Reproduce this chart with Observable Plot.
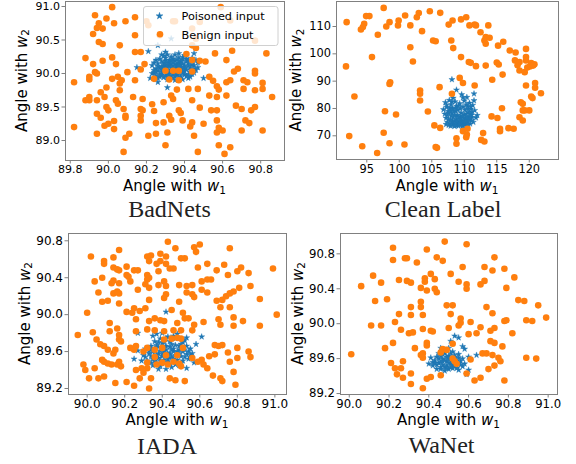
<!DOCTYPE html>
<html><head><meta charset="utf-8">
<script src="https://cdn.jsdelivr.net/npm/d3@7"></script>
<script src="https://cdn.jsdelivr.net/npm/@observablehq/plot@0.6"></script>
<style>
html,body{margin:0;padding:0;background:#fff;}
#wrap{position:relative;width:576px;height:464px;overflow:hidden;font-family:"DejaVu Sans";}
.pnl{position:absolute;}
#overlay{position:absolute;left:0;top:0;}
</style></head><body><div id="wrap"></div>
<script>
// ---------- data ----------
const titles = ["BadNets", "Clean Label", "IADA", "WaNet"];
const legendLabels = ["Poisoned input", "Benign input"];
const axisText = "Angle with ";
const axisVar = "w";
const xSub = "1", ySub = "2";

const badnetsTicksX = [89.8, 90.0, 90.2, 90.4, 90.6, 90.8];
const badnetsTicksY = [89.0, 89.5, 90.0, 90.5, 91.0];
const cleanTicksX = [95, 100, 105, 110, 115, 120];
const cleanTicksY = [70, 80, 90, 100, 110];
const iadaTicksX = [90.0, 90.2, 90.4, 90.6, 90.8, 91.0];
const iadaTicksY = [89.2, 89.6, 90.0, 90.4, 90.8];
const wanetTicksX = [90.0, 90.2, 90.4, 90.6, 90.8, 91.0];
const wanetTicksY = [89.2, 89.6, 90.0, 90.4, 90.8];

const badnetsPoisoned = [[90.30,90.10],[90.32,90.12],[90.34,90.08],[90.36,90.05],[90.38,90.10],[90.33,90.02],[90.29,90.05],[90.31,90.00],[90.35,90.14],[90.37,90.16],[90.40,90.12],[90.41,90.06],[90.39,90.01],[90.36,89.98],[90.33,89.96],[90.30,89.97],[90.28,90.02],[90.27,90.08],[90.29,90.14],[90.32,90.17],[90.35,90.19],[90.38,90.18],[90.42,90.15],[90.43,90.09],[90.43,90.02],[90.40,89.98],[90.37,89.94],[90.34,89.93],[90.31,89.94],[90.28,89.98],[90.26,90.04],[90.26,90.11],[90.30,90.19],[90.34,90.22],[90.39,90.21],[90.44,90.18],[90.45,90.12],[90.46,90.05],[90.44,89.99],[90.36,90.10],[90.33,90.05],[90.31,90.08],[90.35,90.02],[90.38,90.07],[90.40,90.03],[90.32,89.99],[90.29,90.11],[90.36,90.13],[90.41,90.18],[90.37,90.24],[90.33,90.25],[90.30,90.23],[90.25,90.07],[90.24,90.01],[90.27,89.95],[90.35,89.90],[90.42,89.93],[90.47,90.09],[90.47,90.16],[90.23,90.12],[90.25,89.97],[90.39,89.91],[90.44,90.23],[90.31,89.91],[90.17,90.06],[90.22,89.93],[90.23,90.00],[90.26,89.87],[90.31,89.79],[90.50,89.93],[90.21,90.33],[90.30,90.32],[90.40,90.27],[90.37,90.30],[90.25,90.20],[90.28,90.28],[90.45,90.30],[90.26,90.42],[90.33,90.52],[90.15,90.09],
[90.26,90.15],[90.27,90.22],[90.28,90.18],[90.29,90.26],[90.31,90.28],[90.32,90.20],[90.33,90.14],[90.34,90.17],[90.35,90.28],[90.36,90.21],[90.37,90.19],[90.38,90.13],[90.39,90.15],[90.40,90.09],[90.41,90.22],[90.42,90.11],[90.43,90.05],[90.42,89.99],[90.41,89.96],[90.38,89.96],[90.35,89.96],[90.32,89.93],[90.29,89.94],[90.27,89.99],[90.28,90.06],[90.30,90.07],[90.32,90.03],[90.34,90.00],[90.37,90.01],[90.39,90.05],[90.36,90.08],[90.34,90.11],[90.31,90.13],[90.28,90.10],[90.30,90.16],[90.33,90.19],[90.39,90.24],[90.42,90.20],[90.44,90.13],[90.45,90.07],[90.45,90.01],[90.43,89.95],[90.25,90.02],[90.26,89.93],[90.24,90.05],[90.24,90.16],[90.46,90.20],[90.33,90.09],[90.37,90.12],[90.35,90.06]];
const badnetsBenign = [[90.02,90.99],[90.59,90.99],[89.93,90.87],[90.14,90.84],[89.99,90.82],[90.03,90.75],[90.09,90.78],[89.95,90.75],[89.97,90.67],[89.94,90.68],[89.92,90.59],[90.14,90.57],[89.95,90.47],[89.97,90.44],[90.06,90.42],[90.27,90.57],[90.44,90.42],[90.46,90.38],[89.88,90.23],[90.02,90.24],[90.14,90.32],[90.17,90.32],[89.97,90.19],[90.04,90.14],[90.41,90.29],[90.44,90.20],[90.56,90.30],[90.65,90.34],[90.83,90.30],[90.48,90.19],[90.51,90.18],[90.62,90.20],[90.10,90.02],[90.68,90.07],[90.66,90.03],[90.77,90.04],[90.77,90.00],[89.93,90.02],[89.94,90.00],[89.90,89.95],[89.90,89.91],[90.02,89.92],[90.05,89.95],[90.07,89.90],[90.14,89.90],[90.24,89.92],[90.30,90.04],[90.34,90.04],[90.37,90.04],[90.32,89.91],[90.37,89.90],[90.53,89.95],[90.55,89.89],[90.62,89.87],[90.64,89.90],[90.71,89.90],[90.73,89.87],[90.81,89.86],[89.82,89.87],[89.99,89.79],[90.06,89.85],[90.06,89.75],[89.96,89.72],[90.36,89.76],[90.42,89.77],[90.47,89.77],[90.57,89.81],[90.58,89.76],[90.71,89.77],[90.81,89.77],[89.90,89.65],[89.90,89.60],[89.94,89.60],[89.98,89.65],[90.04,89.60],[90.05,89.55],[90.13,89.65],[90.18,89.62],[90.33,89.67],[90.34,89.62],[90.44,89.60],[90.53,89.67],[90.57,89.65],[90.62,89.67],[90.77,89.75],[90.86,89.65],[89.88,89.60],[89.99,89.50],[90.00,89.45],[89.94,89.40],[90.08,89.47],[90.09,89.37],[90.17,89.47],[90.18,89.45],[90.17,89.37],[90.23,89.54],[90.29,89.57],[90.24,89.44],[90.37,89.45],[90.38,89.41],[90.48,89.49],[90.54,89.45],[90.57,89.45],[90.67,89.52],[90.70,89.47],[90.75,89.45],[90.77,89.50],[89.96,89.34],[89.98,89.22],[90.00,89.25],[90.03,89.29],[90.09,89.34],[90.17,89.30],[90.25,89.26],[90.29,89.27],[90.32,89.37],[90.33,89.31],[90.39,89.30],[90.44,89.27],[90.43,89.21],[90.50,89.25],[90.57,89.30],[90.58,89.19],[90.72,89.30],[90.74,89.26],[89.82,89.20],[89.94,89.10],[90.03,89.17],[90.11,89.10],[90.09,89.04],[90.21,89.07],[90.25,89.10],[90.31,89.12],[90.45,89.07],[90.57,89.12],[90.60,89.15],[90.70,89.15],[90.81,89.15],[90.30,88.93],[90.58,88.93],[90.64,88.90],[90.08,88.83],[90.47,88.83],[90.61,88.80],[90.20,90.78],[90.21,90.72],[90.34,90.78],[90.35,90.78],[90.44,90.67],[90.46,90.52],[90.48,90.77],[90.77,90.49],[90.64,90.79],[90.17,90.06],[90.19,90.14],[89.92,90.14],[90.44,90.03]];

const cleanPoisoned = [[107.3,80.5],[107.5,79.0],[107.4,77.5],[107.6,76.0],[107.8,74.5],[108.0,81.5],[108.2,79.8],[108.1,78.2],[108.3,76.8],[108.2,75.2],[108.4,74.0],[108.6,82.5],[108.8,80.8],[108.7,79.0],[108.9,77.5],[108.8,76.0],[109.0,74.6],[109.1,73.6],[109.3,81.8],[109.4,80.0],[109.5,78.4],[109.4,76.9],[109.6,75.5],[109.5,74.2],[109.8,73.8],[110.0,82.8],[110.1,79.5],[110.0,77.8],[110.2,76.2],[110.1,74.8],[110.4,73.9],[110.5,80.8],[110.6,78.6],[110.7,77.0],[110.5,75.4],[110.9,74.4],[111.0,79.8],[111.2,76.8],[111.1,75.6],[111.4,75.0],[107.1,82.2],[107.2,74.2],[107.9,73.6],[108.5,73.5],[109.8,84.0],[108.3,83.8],[110.8,82.0],[111.3,81.2],[107.7,83.0],[109.2,75.0],[108.6,75.6],[109.9,76.5],[110.4,75.0],[108.0,77.2],[110.3,78.0],[109.0,79.5],[107.6,78.3],[108.1,90.6],[108.8,86.8],[109.6,85.1],[111.5,85.4],[110.4,84.1],[111.5,82.9],[111.6,79.3],[111.8,76.6],[112.0,77.5],[106.8,79.6],
[107.2,76.5],[107.4,75.0],[107.6,73.9],[107.9,75.8],[107.9,78.9],[107.3,81.2],[107.0,78.0],[108.0,80.2],[108.3,74.6],[108.5,77.5],[108.6,74.1],[108.9,75.2],[108.7,73.8],[109.2,74.1],[109.3,76.2],[109.1,77.0],[109.6,74.7],[109.7,73.5],[109.9,75.2],[110.0,74.0],[110.2,75.4],[110.3,73.7],[110.6,74.2],[110.7,75.9],[110.8,76.7],[110.9,78.2],[111.1,77.7],[110.4,76.8],[109.7,77.3],[108.4,78.9],[108.7,80.2],[109.1,81.0],[109.8,80.6],[110.3,81.4],[111.0,80.6],[107.8,80.0],[108.1,82.5],[110.6,79.8],[111.2,78.6],[109.3,74.5]];
const cleanBenign = [[97.6,116.8],[91.9,111.6],[94.9,113.8],[95.4,113.8],[94.6,111.0],[94.4,109.8],[94.1,108.9],[96.7,107.0],[98.5,111.6],[98.0,110.0],[99.9,112.2],[99.8,110.4],[100.9,114.0],[101.7,110.4],[102.7,113.4],[103.0,114.9],[103.5,108.3],[104.7,115.6],[106.3,115.0],[107.6,110.7],[108.2,112.2],[109.5,112.6],[110.3,113.4],[110.8,110.4],[111.6,110.7],[111.8,110.4],[112.5,107.9],[113.7,110.4],[113.3,106.1],[113.1,104.9],[113.3,103.7],[113.9,105.9],[115.2,103.0],[116.0,104.4],[105.2,104.9],[105.6,104.6],[108.0,104.9],[108.3,102.1],[101.7,102.4],[102.1,97.2],[95.8,98.8],[91.8,95.4],[109.5,98.8],[110.7,97.0],[111.0,96.7],[111.8,95.5],[113.3,95.7],[115.0,96.8],[115.3,96.1],[117.0,101.2],[117.9,100.5],[119.5,101.8],[119.5,98.8],[119.5,97.6],[117.8,97.6],[118.5,97.0],[118.2,95.8],[118.5,93.9],[119.3,93.3],[120.3,96.6],[120.8,96.2],[120.1,95.4],[119.7,95.0],[120.6,95.7],[115.9,92.4],[114.3,90.5],[109.3,91.2],[109.8,89.3],[111.6,88.4],[106.2,87.8],[98.6,89.6],[98.5,89.0],[103.2,86.6],[103.2,85.4],[103.2,82.9],[93.1,84.4],[108.1,85.4],[119.5,88.4],[120.9,89.3],[120.9,87.6],[121.8,85.6],[120.3,84.4],[120.5,83.8],[118.7,82.3],[119.0,81.7],[115.8,80.1],[120.0,79.3],[119.0,79.3],[119.3,79.3],[118.5,76.8],[119.0,75.6],[114.2,77.1],[115.1,76.5],[104.4,78.9],[99.5,77.8],[97.8,79.0],[105.4,73.8],[106.3,72.9],[109.8,71.7],[110.5,72.6],[110.4,70.5],[108.8,69.1],[108.8,67.1],[110.3,69.5],[112.9,71.0],[112.6,68.5],[113.1,67.9],[115.5,72.6],[115.5,71.7],[116.8,72.8],[117.6,72.6],[97.6,71.1],[92.3,69.9],[98.5,67.3],[100.8,66.8],[94.3,66.2],[96.6,63.7],[105.6,65.9],[105.8,65.6]];

const iadaPoisoned = [[90.36,89.60],[90.38,89.65],[90.40,89.55],[90.42,89.62],[90.44,89.58],[90.46,89.52],[90.48,89.60],[90.50,89.55],[90.41,89.70],[90.45,89.68],[90.49,89.66],[90.35,89.52],[90.37,89.48],[90.40,89.47],[90.44,89.46],[90.47,89.49],[90.51,89.50],[90.52,89.62],[90.34,89.66],[90.36,89.71],[90.39,89.74],[90.43,89.76],[90.47,89.74],[90.51,89.70],[90.53,89.57],[90.33,89.58],[90.32,89.50],[90.38,89.58],[90.43,89.52],[90.46,89.63],[90.41,89.60],[90.39,89.44],[90.45,89.43],[90.49,89.45],[90.54,89.52],[90.55,89.63],[90.31,89.63],[90.30,89.56],[90.35,89.45],[90.42,89.41],[90.48,89.79],[90.40,89.80],[90.35,89.77],[90.53,89.75],[90.56,89.58],[90.29,89.50],[90.34,89.63],[90.44,89.65],[90.50,89.64],[90.47,89.56],[90.42,90.03],[90.27,89.80],[90.27,89.61],[90.38,89.41],[90.53,89.42],[90.61,89.76],[90.37,89.79],[90.57,89.48],[90.25,89.52],[90.58,89.68],
[90.34,89.55],[90.35,89.60],[90.36,89.50],[90.37,89.67],[90.38,89.53],[90.39,89.61],[90.40,89.69],[90.41,89.51],[90.42,89.66],[90.43,89.58],[90.44,89.71],[90.45,89.55],[90.46,89.60],[90.47,89.67],[90.48,89.51],[90.49,89.58],[90.50,89.68],[90.51,89.60],[90.52,89.54],[90.53,89.66],[90.37,89.56],[90.39,89.50],[90.43,89.49],[90.47,89.46],[90.50,89.47],[90.41,89.64],[90.45,89.62],[90.33,89.61],[90.36,89.64],[90.44,89.53],[90.49,89.62],[90.52,89.72],[90.38,89.70],[90.42,89.74],[90.46,89.77],[90.31,89.54],[90.34,89.48],[90.55,89.56],[90.54,89.60],[90.40,89.57]];
const iadaBenign = [[90.43,90.79],[90.47,90.72],[90.57,90.73],[90.60,90.76],[90.58,90.68],[90.76,90.72],[90.17,90.70],[90.02,90.63],[90.14,90.62],[90.09,90.58],[90.09,90.55],[90.32,90.63],[90.34,90.64],[90.33,90.58],[90.39,90.66],[90.42,90.63],[90.42,90.55],[90.39,90.58],[90.52,90.61],[90.50,90.61],[90.46,90.50],[90.44,90.50],[90.14,90.51],[90.16,90.49],[90.17,90.48],[90.21,90.52],[90.21,90.43],[90.22,90.41],[90.23,90.36],[90.25,90.48],[90.27,90.48],[90.32,90.43],[90.32,90.38],[90.33,90.40],[90.37,90.55],[90.38,90.47],[90.38,90.32],[90.04,90.36],[90.08,90.40],[90.14,90.37],[90.13,90.34],[90.17,90.34],[90.17,90.23],[90.14,90.23],[90.16,90.25],[90.06,90.24],[90.27,90.27],[90.31,90.33],[90.33,90.29],[90.41,90.36],[90.42,90.31],[90.42,90.22],[90.41,90.18],[90.49,90.32],[90.53,90.31],[90.56,90.32],[90.53,90.24],[90.56,90.22],[90.57,90.19],[90.61,90.36],[90.64,90.38],[90.66,90.38],[90.61,90.27],[90.64,90.24],[90.59,90.51],[90.64,90.55],[90.69,90.48],[90.75,90.43],[90.73,90.54],[90.80,90.47],[90.82,90.51],[90.86,90.45],[90.87,90.31],[90.81,90.29],[90.99,90.50],[90.74,90.20],[90.76,90.23],[90.78,90.25],[90.72,90.16],[90.69,90.15],[90.92,90.17],[90.08,90.14],[90.11,90.15],[90.17,90.12],[90.33,90.16],[90.49,90.14],[90.71,90.08],[90.76,90.08],[90.00,90.02],[90.21,90.03],[90.24,90.02],[90.28,90.04],[90.31,90.07],[90.25,90.07],[90.26,89.95],[90.33,89.93],[90.36,89.96],[90.39,89.94],[90.41,89.93],[90.45,90.05],[90.51,90.02],[90.52,89.96],[90.48,89.91],[90.54,89.96],[90.57,89.89],[90.12,89.91],[90.12,89.82],[90.16,89.85],[90.03,89.81],[89.95,89.78],[90.05,89.73],[90.62,89.92],[90.70,89.95],[90.71,89.89],[90.78,89.97],[90.78,89.88],[90.83,89.93],[90.92,89.88],[91.01,90.00],[90.17,89.73],[90.17,89.78],[90.18,89.71],[90.26,89.82],[90.32,89.84],[90.36,89.83],[90.41,89.82],[90.46,89.83],[90.50,89.83],[90.56,89.83],[90.07,89.68],[90.09,89.66],[90.11,89.62],[90.14,89.58],[90.15,89.62],[90.08,89.51],[90.09,89.49],[90.11,89.47],[90.13,89.46],[90.16,89.46],[90.17,89.49],[90.18,89.44],[90.23,89.64],[90.25,89.62],[90.26,89.66],[90.32,89.64],[90.30,89.60],[89.98,89.46],[89.99,89.40],[90.04,89.42],[90.01,89.31],[90.06,89.31],[90.09,89.33],[90.15,89.26],[90.21,89.27],[90.25,89.23],[90.28,89.31],[90.32,89.42],[90.30,89.37],[90.34,89.31],[90.33,89.20],[90.44,89.31],[90.47,89.29],[90.52,89.28],[90.50,89.44],[90.56,89.53],[90.61,89.51],[90.62,89.46],[90.64,89.42],[90.59,89.49],[90.67,89.34],[90.68,89.67],[90.70,89.66],[90.72,89.67],[90.68,89.57],[90.65,89.55],[90.75,89.59],[90.76,89.49],[90.80,89.64],[90.80,89.53],[90.78,89.38],[90.72,89.28],[90.71,89.31],[90.86,89.60],[90.87,89.54],[90.79,89.24],[90.36,89.62],[90.36,89.54],[90.40,89.64],[90.41,89.73],[90.45,89.74],[90.48,89.75],[90.50,89.74],[90.42,89.56],[90.46,89.49],[90.48,89.56],[90.40,89.48],[90.43,89.46],[90.49,89.47],[90.51,89.64],[90.32,89.48],[90.37,89.46],[90.29,89.42],[90.26,89.40]];

const wanetPoisoned = [[90.45,89.55],[90.47,89.60],[90.49,89.52],[90.51,89.58],[90.53,89.62],[90.48,89.66],[90.44,89.62],[90.46,89.50],[90.50,89.48],[90.54,89.52],[90.56,89.57],[90.52,89.68],[90.43,89.58],[90.47,89.70],[90.50,89.63],[90.55,89.65],[90.42,89.52],[90.44,89.48],[90.48,89.46],[90.52,89.49],[90.57,89.60],[90.49,89.57],[90.46,89.56],[90.51,89.54],[90.53,89.56],[90.45,89.66],[90.41,89.61],[90.58,89.54],[90.55,89.47],[90.50,89.72],[90.53,89.86],[90.55,89.84],[90.57,89.74],[90.58,89.71],[90.64,89.64],[90.40,89.54],[90.42,89.56],[90.57,89.51],[90.60,89.47],[90.59,89.42],[90.51,89.80],[90.46,89.72],[90.60,89.62],
[90.44,89.53],[90.45,89.60],[90.46,89.63],[90.47,89.53],[90.48,89.58],[90.48,89.50],[90.49,89.62],[90.50,89.55],[90.50,89.60],[90.51,89.50],[90.52,89.59],[90.52,89.53],[90.53,89.64],[90.54,89.58],[90.54,89.49],[90.55,89.61],[90.56,89.53],[90.47,89.65],[90.46,89.48],[90.43,89.55],[90.49,89.49],[90.51,89.66],[90.53,89.51],[90.47,89.57],[90.55,89.55]];
const wanetBenign = [[90.48,90.94],[90.59,90.91],[90.22,90.87],[90.39,90.85],[90.22,90.73],[90.28,90.75],[90.29,90.75],[90.34,90.70],[90.44,90.76],[90.47,90.72],[90.57,90.65],[90.73,90.76],[90.68,90.65],[90.72,90.61],[90.78,90.63],[90.83,90.53],[90.12,90.55],[90.06,90.43],[90.16,90.47],[90.25,90.50],[90.29,90.49],[90.31,90.47],[90.41,90.57],[90.38,90.52],[90.38,90.48],[90.43,90.51],[90.36,90.41],[90.39,90.38],[90.43,90.40],[90.44,90.36],[90.51,90.57],[90.55,90.48],[90.59,90.45],[90.59,90.40],[90.66,90.45],[90.68,90.49],[90.79,90.41],[90.13,90.26],[90.19,90.28],[90.36,90.25],[90.36,90.19],[90.31,90.19],[90.31,90.10],[90.37,90.10],[90.25,90.11],[90.49,90.21],[90.52,90.21],[90.51,90.11],[90.69,90.19],[90.72,90.12],[90.85,90.27],[90.88,90.26],[90.95,90.21],[90.99,90.07],[90.16,89.98],[90.23,90.02],[90.26,89.93],[90.30,89.89],[90.32,89.90],[90.37,89.94],[90.41,89.92],[90.42,89.91],[90.50,89.95],[90.56,90.06],[90.56,90.01],[90.55,89.98],[90.61,90.02],[90.60,89.88],[90.64,89.89],[90.66,89.96],[90.71,89.92],[90.73,89.95],[90.78,90.03],[90.79,90.04],[90.82,89.89],[90.89,90.04],[90.92,90.03],[90.11,89.98],[90.22,89.78],[90.18,89.72],[90.33,89.72],[90.39,89.78],[90.39,89.75],[90.47,89.71],[90.49,89.70],[90.46,89.67],[90.52,89.77],[90.71,89.80],[90.73,89.78],[90.77,89.74],[90.01,89.65],[90.37,89.66],[90.36,89.64],[90.37,89.61],[90.61,89.59],[90.67,89.66],[90.69,89.66],[90.72,89.64],[90.75,89.61],[90.76,89.57],[90.89,89.61],[90.94,89.60],[90.21,89.55],[90.27,89.57],[90.31,89.43],[90.26,89.49],[90.23,89.49],[90.24,89.42],[90.27,89.38],[90.31,89.31],[90.37,89.26],[90.39,89.37],[90.41,89.39],[90.46,89.41],[90.59,89.43],[90.63,89.35],[90.66,89.38],[90.70,89.48],[90.73,89.52],[90.78,89.35],[90.52,89.60],[90.53,89.57],[90.54,89.54]];

// ---------- layout ----------
const BLUE = "#1f77b4", ORANGE = "#ff7f0e", SPINE = "#808080";
const panels = [
  {poisoned: badnetsPoisoned, benign: badnetsBenign, left: 0, top: 0, width: 288, height: 200, mL: 65, mR: 4, mT: 1, mB: 40, fs: 11,
   xd: [89.775, 90.925], yd: [88.7015, 91.0746], xt: badnetsTicksX, yt: badnetsTicksY, fx: d => d.toFixed(1), fy: d => d.toFixed(1)},
  {poisoned: cleanPoisoned, benign: cleanBenign, left: 288, top: 0, width: 288, height: 200, mL: 48, mR: 18, mT: 1, mB: 41, fs: 11.4,
   xd: [90.34, 124.5], yd: [61.33, 119.15], xt: cleanTicksX, yt: cleanTicksY, fx: d => String(d), fy: d => String(d)},
  {poisoned: iadaPoisoned, benign: iadaBenign, left: 0, top: 232, width: 288, height: 232, mL: 68, mR: 2, mT: 1, mB: 70, fs: 12,
   xd: [89.9005, 91.062], yd: [89.135, 90.879], xt: iadaTicksX, yt: iadaTicksY, fx: d => d.toFixed(1), fy: d => d.toFixed(1)},
  {poisoned: wanetPoisoned, benign: wanetBenign, left: 288, top: 232, width: 288, height: 232, mL: 52, mR: 19, mT: 1, mB: 70, fs: 11.7,
   xd: [89.956, 91.047], yd: [89.189, 91.033], xt: wanetTicksX, yt: wanetTicksY, fx: d => d.toFixed(1), fy: d => d.toFixed(1)}
];

const wrap = document.getElementById("wrap");
for (const p of panels) {
  const svg = Plot.plot({
    width: p.width, height: p.height,
    marginLeft: p.mL, marginRight: p.mR, marginTop: p.mT, marginBottom: p.mB,
    x: {domain: p.xd},
    y: {domain: p.yd},
    style: {fontFamily: "DejaVu Sans", fontSize: p.fs + "px", background: "transparent", overflow: "visible", color: "#000"},
    marks: [
      Plot.dot(p.poisoned, {x: d => d[0], y: d => d[1], symbol: "star", r: 1.9, fill: BLUE, stroke: BLUE, strokeWidth: 0.4}),
      Plot.dot(p.benign, {x: d => d[0], y: d => d[1], r: 3.3, fill: ORANGE}),
      Plot.frame({stroke: SPINE}),
      Plot.axisX({ticks: p.xt, tickFormat: p.fx, tickSize: 3.5, tickPadding: 1.5, stroke: SPINE, fill: "#000", label: null}),
      Plot.axisY({ticks: p.yt, tickFormat: p.fy, tickSize: 3.5, tickPadding: 2, stroke: SPINE, fill: "#000", label: null})
    ]
  });
  const div = document.createElement("div");
  div.className = "pnl";
  div.style.left = p.left + "px";
  div.style.top = p.top + "px";
  div.appendChild(svg);
  wrap.appendChild(div);
}

// ---------- overlay: axis labels, titles, legend ----------
const ov = d3.select("#wrap").append("svg").attr("id", "overlay").attr("width", 576).attr("height", 464);

function axLabel(x, y, sub, rotate) {
  const t = ov.append("text")
    .attr("font-family", "DejaVu Sans").attr("font-size", 15).attr("fill", "#000")
    .attr("text-anchor", "middle")
    .attr("transform", rotate ? `translate(${x},${y}) rotate(-90)` : `translate(${x},${y})`);
  t.append("tspan").attr("xml:space", "preserve").text(axisText);
  t.append("tspan").attr("font-style", "italic").text(axisVar);
  t.append("tspan").attr("font-size", 10.5).attr("dy", "0.25em").text(sub);
}
const xLabelPos = [[174.5, 191], [447, 191], [177, 425], [448.5, 425]];
const yLabelPos = [[26.5, 80.5], [301, 80], [29.5, 313.5], [302.5, 313.5]];
xLabelPos.forEach(([x, y]) => axLabel(x, y, xSub, false));
yLabelPos.forEach(([x, y]) => axLabel(x, y, ySub, true));

const titlePos = [[169.5, 217], [443, 217], [167, 453.5], [441.5, 452.5]];
titles.forEach((t, i) => {
  ov.append("text").attr("x", titlePos[i][0]).attr("y", titlePos[i][1])
    .attr("text-anchor", "middle").attr("font-family", "Liberation Serif, serif")
    .attr("font-size", 24).attr("fill", "#222").text(t);
});

// legend in BadNets panel
const lg = ov.append("g");
lg.append("rect").attr("x", 143.5).attr("y", 6.5).attr("width", 134.5).attr("height", 39)
  .attr("rx", 2.5).attr("fill", "white").attr("fill-opacity", 0.8).attr("stroke", "#d0d0d0").attr("stroke-width", 1);
const starPath = d3.symbol(d3.symbolStar, Math.PI * 2.2 * 2.2)();
lg.append("path").attr("d", starPath).attr("transform", "translate(159.5,16)").attr("fill", BLUE).attr("stroke", BLUE).attr("stroke-width", 0.4);
lg.append("circle").attr("cx", 160).attr("cy", 34.3).attr("r", 3.3).attr("fill", ORANGE);
lg.append("text").attr("x", 181.5).attr("y", 20.2).attr("font-family", "DejaVu Sans").attr("font-size", 11.3).attr("fill", "#000").text(legendLabels[0]);
lg.append("text").attr("x", 181.5).attr("y", 38.5).attr("font-family", "DejaVu Sans").attr("font-size", 11.3).attr("fill", "#000").text(legendLabels[1]);
</script>
</body></html>
